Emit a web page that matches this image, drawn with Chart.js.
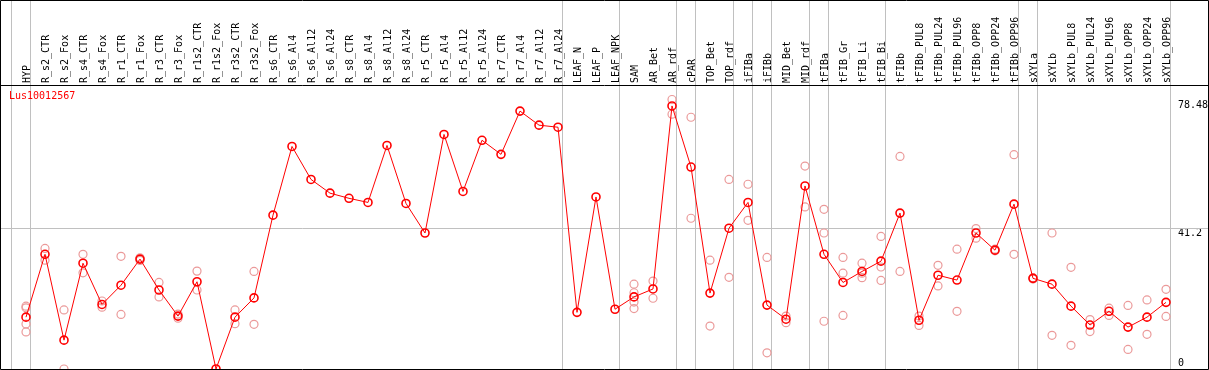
<!DOCTYPE html>
<html lang="en">
<head>
    <meta charset="UTF-8">
    <title>Lus10012567</title>
    <style>
        body {
            margin: 0;
            padding: 0;
            background-color: #fff;
        }

        #wrap {
            position: relative;
            width: 1209px;
            height: 370px;
        }

        #gene {
            position: absolute;
            left: 9px;
            top: 90px;
            font-family: "DejaVu Sans Mono", monospace;
            font-size: 10px;
            line-height: 12px;
            color: #ff0000;
        }
    </style>
</head>
<body>
    <div id="wrap">
        <canvas id="chart" width="1209" height="370"></canvas>
        <div id="gene">Lus10012567</div>
    </div>

    <script src="https://cdn.jsdelivr.net/npm/chart.js"></script>
    <script>
        var categories = ['HYP', 'R_s2_CTR', 'R_s2_Fox', 'R_s4_CTR', 'R_s4_Fox', 'R_r1_CTR', 'R_r1_Fox',
            'R_r3_CTR', 'R_r3_Fox', 'R_r1s2_CTR', 'R_r1s2_Fox', 'R_r3s2_CTR', 'R_r3s2_Fox', 'R_s6_CTR',
            'R_s6_Al4', 'R_s6_Al12', 'R_s6_Al24', 'R_s8_CTR', 'R_s8_Al4', 'R_s8_Al12', 'R_s8_Al24',
            'R_r5_CTR', 'R_r5_Al4', 'R_r5_Al12', 'R_r5_Al24', 'R_r7_CTR', 'R_r7_Al4', 'R_r7_Al12', 'R_r7_Al24',
            'LEAF_N', 'LEAF_P', 'LEAF_NPK', 'SAM', 'AR_Bet', 'AR_rdf', 'cPAR', 'TOP_Bet', 'TOP_rdf',
            'iFIBa', 'iFIBb', 'MID_Bet', 'MID_rdf', 'tFIBa', 'tFIB_Gr', 'tFIB_Li', 'tFIB_Bi', 'tFIBb',
            'tFIBb_PUL8', 'tFIBb_PUL24', 'tFIBb_PUL96', 'tFIBb_OPP8', 'tFIBb_OPP24', 'tFIBb_OPP96',
            'sXYLa', 'sXYLb', 'sXYLb_PUL8', 'sXYLb_PUL24', 'sXYLb_PUL96', 'sXYLb_OPP8', 'sXYLb_OPP24', 'sXYLb_OPP96'];

        // mean expression per sample
        var means = [15.1, 33.4, 8.4, 30.8, 18.8, 24.4, 32.0, 23.0, 15.4, 25.4,
            0, 15.1, 20.7, 44.8, 64.8, 55.2, 51.2, 49.7, 48.5, 65.1,
            48.2, 39.6, 68.3, 51.7, 66.6, 62.5, 75.1, 71.0, 70.4, 16.5,
            50.1, 17.4, 21.0, 23.3, 76.6, 58.8, 22.1, 41.0, 48.5, 18.6,
            14.5, 53.3, 33.4, 25.2, 28.4, 31.4, 45.4, 14.2, 27.3, 25.9,
            39.6, 34.6, 48.0, 26.4, 24.7, 18.3, 12.8, 16.8, 12.2, 15.1, 19.4];

        // single replicates (empty where none are shown)
        var replicates = [
            [18.3, 17.8, 13.1, 10.8], [35.1, 31.7], [17.2, 0], [33.4, 28.0], [19.8, 18.0],
            [32.8, 15.9], [32.4, 31.6], [25.2, 21.0], [16.0, 14.8], [28.5, 23.0],
            [], [17.2, 13.2], [28.4, 13.0], [], [], [], [], [], [], [],
            [], [], [], [], [], [], [], [], [], [],
            [], [], [24.7, 22.2, 19.5, 17.6], [25.6, 20.6], [78.48, 74.2],
            [73.3, 43.9], [31.7, 12.5], [55.2, 26.7], [53.8, 43.3], [32.5, 4.7],
            [15.4, 13.5], [59.1, 47.2], [46.5, 39.6, 13.9], [32.5, 27.9, 15.6], [30.8, 27.9, 26.6],
            [38.6, 29.7, 25.8], [61.9, 28.4], [15.4, 12.7], [30.2, 24.2], [34.9, 16.8],
            [40.9, 38.1], [34.9, 34.4], [62.4, 33.4], [26.6, 26.2], [39.6, 9.8],
            [29.6, 6.9], [14.4, 10.9], [17.7, 15.6], [18.5, 5.7], [20.1, 10.1], [23.2, 15.3]];

        var yTicks = [0, 41.2, 78.48];
        var yTickLabels = ['0', '41.2', '78.48'];
        var yMax = 78.48 * 1.05;

        // sample index after which a group separator is drawn
        var groupEnds = [-1, 0, 28, 31, 34, 35, 37, 38, 39, 41, 42, 45, 52, 53, 60];

        var repPoints = [];
        replicates.forEach(function(list, i) {
            list.forEach(function(v) {
                repPoints.push({ x: categories[i], y: v });
            });
        });

        var decor = {
            id: 'decor',
            beforeDatasetsDraw: function(chart) {
                var ctx = chart.ctx;
                var x = chart.scales.x;
                var y = chart.scales.y;
                var w = chart.width, h = chart.height;
                var step = x.getPixelForValue(1) - x.getPixelForValue(0);
                ctx.save();
                ctx.lineWidth = 1;
                ctx.strokeStyle = '#c0c0c0';
                ctx.beginPath();
                groupEnds.forEach(function(i) {
                    var px = Math.round(x.getPixelForValue(0) + (i + 0.22) * step) + 0.5;
                    ctx.moveTo(px, 0);
                    ctx.lineTo(px, h);
                });
                var gy = Math.round(y.getPixelForValue(yTicks[1])) + 0.5;
                ctx.moveTo(0, gy);
                ctx.lineTo(w, gy);
                ctx.stroke();

                ctx.strokeStyle = '#000';
                ctx.beginPath();
                ctx.rect(0.5, 0.5, w - 1, h - 1);
                var ty = Math.round(chart.chartArea.top) - 0.5;
                ctx.moveTo(0, ty);
                ctx.lineTo(w, ty);
                ctx.stroke();
                ctx.restore();
            }
        };

        function noPadding(scale) {
            scale.paddingLeft = 0;
            scale.paddingRight = 0;
            scale.paddingTop = 0;
            scale.paddingBottom = 0;
        }

        Chart.defaults.font.family = '"DejaVu Sans Mono", monospace';
        Chart.defaults.font.size = 10;
        Chart.defaults.color = '#000';

        var ctx = document.getElementById('chart').getContext('2d');
        var myChart = new Chart(ctx, {
            type: 'line',
            data: {
                labels: categories,
                datasets: [{
                    data: means,
                    borderColor: '#ff0000',
                    borderWidth: 1,
                    pointRadius: 4,
                    pointBorderWidth: 1.6,
                    pointBorderColor: '#ff0000',
                    pointBackgroundColor: 'rgba(0,0,0,0)',
                    tension: 0
                }, {
                    data: repPoints,
                    showLine: false,
                    pointRadius: 4,
                    pointBorderWidth: 1.2,
                    pointBorderColor: '#eb9a9a',
                    pointBackgroundColor: 'rgba(0,0,0,0)'
                }]
            },
            options: {
                responsive: false,
                animation: false,
                devicePixelRatio: 1,
                layout: {
                    autoPadding: false,
                    padding: { left: 26, right: 0, top: 0, bottom: 1 }
                },
                plugins: {
                    legend: { display: false },
                    tooltip: { enabled: false }
                },
                scales: {
                    x: {
                        position: 'top',
                        grid: { display: false, drawTicks: false },
                        border: { display: false },
                        ticks: {
                            autoSkip: false,
                            minRotation: 90,
                            maxRotation: 90,
                            padding: 3,
                            labelOffset: 13
                        },
                        afterFit: function(scale) {
                            scale.height = 86;
                            noPadding(scale);
                        }
                    },
                    y: {
                        position: 'right',
                        min: 0,
                        max: yMax,
                        grid: { display: false, drawTicks: false },
                        border: { display: false },
                        afterBuildTicks: function(scale) {
                            scale.ticks = yTicks.map(function(v) { return { value: v }; });
                        },
                        ticks: {
                            autoSkip: false,
                            padding: 12,
                            labelOffset: 6,
                            callback: function(value, index) {
                                // push the zero label up so it stays inside the frame
                                return index === 0 ? [yTickLabels[0], '', ''] : yTickLabels[index];
                            }
                        },
                        afterFit: function(scale) {
                            scale.width = 43;
                            noPadding(scale);
                        }
                    }
                }
            },
            plugins: [decor]
        });
    </script>
</body>
</html>
